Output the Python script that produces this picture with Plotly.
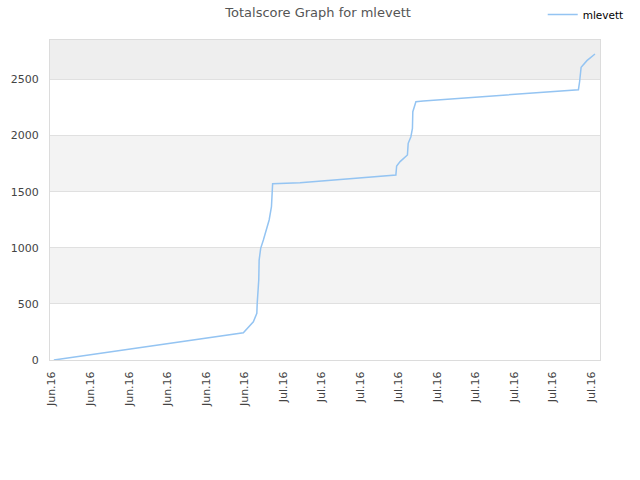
import plotly.graph_objects as go

# pixel-read data, x in tick-index units (0..14)
x_vals = [0.05, 4.97, 5.23, 5.32, 5.33, 5.37, 5.38, 5.42, 5.49, 5.58, 5.64, 5.70, 5.71, 5.73,
          6.44, 8.93, 8.95, 9.04, 9.23, 9.25, 9.32, 9.36, 9.37, 9.41, 9.45, 9.64,
          13.67, 13.70, 13.74, 13.89, 14.10]
scores = [0, 243, 341, 416, 505, 713, 891, 995, 1070, 1174, 1248, 1366, 1560, 1570,
          1580, 1649, 1729, 1768, 1827, 1931, 1990, 2065, 2213, 2258, 2302, 2308,
          2409, 2480, 2609, 2668, 2727]
tick_pos = list(range(15))
tick_text = ["Jun.16"] * 6 + ["Jul.16"] * 9
series_name = "mlevett"
title_text = "Totalscore Graph for mlevett"

fig = go.Figure()
fig.add_trace(go.Scatter(x=x_vals, y=scores, mode="lines", name=series_name,
                         line=dict(color="#94c4f2", width=1.5)))

bands = [(500, 1000, "#f3f3f3"), (1500, 2000, "#f3f3f3"), (2500, 3000, "#eeeeee")]
for y0, y1, c in bands:
    fig.add_shape(type="rect", xref="paper", yref="y", x0=0, x1=1, y0=y0, y1=y1,
                  fillcolor=c, line_width=0, layer="below")

fig.update_layout(
    width=640, height=480,
    margin=dict(l=50, r=40, t=40, b=120, autoexpand=False),
    paper_bgcolor="white", plot_bgcolor="white",
    font=dict(family="DejaVu Sans", size=11, color="#444"),
    title=dict(text=title_text, x=0.497, xanchor="center", y=0.975, yanchor="middle",
               font=dict(family="DejaVu Sans", size=13, color="#555")),
    showlegend=True,
    legend=dict(xref="container", yref="container", x=0.848, xanchor="left",
                y=1.003, yanchor="top", bgcolor="rgba(0,0,0,0)", itemwidth=30,
                font=dict(family="DejaVu Sans", size=10.5, color="#000")),
    xaxis=dict(range=[-0.05, 14.23], tickmode="array", tickvals=tick_pos, ticktext=tick_text,
               tickangle=-90, showgrid=False, zeroline=False, showline=True, mirror=True,
               linecolor="#dcdcdc", linewidth=1, ticks="", ticklabelstandoff=6,
               automargin=False, tickfont=dict(size=11, color="#444")),
    yaxis=dict(range=[0, 2852], tickmode="array", tickvals=[0, 500, 1000, 1500, 2000, 2500],
               showgrid=True, gridcolor="#e0e0e0", zeroline=False, showline=True, mirror=True,
               linecolor="#dcdcdc", linewidth=1, ticks="", ticklabelstandoff=8,
               automargin=False, tickfont=dict(size=11, color="#444")),
)
fig.write_html("out.html", config={"displayModeBar": False},
               post_script="document.body.style.margin='0';")
